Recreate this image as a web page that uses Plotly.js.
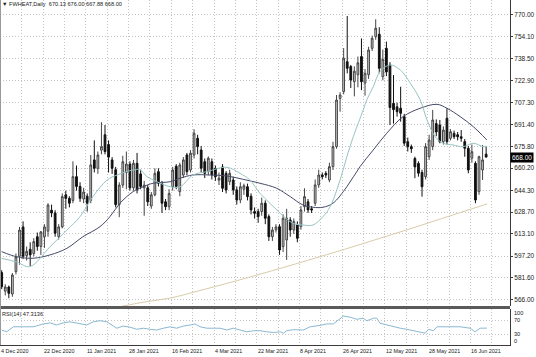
<!DOCTYPE html>
<html><head><meta charset="utf-8">
<script src="https://cdn.plot.ly/plotly-3.0.1.min.js"></script>
<style>html,body{margin:0;padding:0;background:#fff;}#chart{width:536px;height:357px;}</style>
</head><body><div id="chart"></div>
<script>
const symbol = 'FWHEAT,Daily';
const rsiName = 'RSI(14)';
const rsiLast = 47.3136;

const dateLabels = ['4 Dec 2020','22 Dec 2020','11 Jan 2021','28 Jan 2021','16 Feb 2021','4 Mar 2021','22 Mar 2021','8 Apr 2021','26 Apr 2021','12 May 2021','28 May 2021','16 Jun 2021'];
const dateLabelIdx = [0,12,24,36,48,60,72,84,96,108,120,132];

const priceTicks = [566.00,581.60,597.20,613.10,628.70,644.30,660.20,675.80,691.40,707.30,722.90,738.50,754.10,770.00];
const rsiTicks = [100,70,30,0];

const open = [585.3,572,575,570,586,597,618,597.5,602,599,611,604,611,615,630,628,611,618,641,638.5,
637,654,647,638,640,637,666,660,673,684,677,666,659,634,648,657,663,646,663.6,656,
646,646,633,641,657.6,649,636,632.5,646.8,661.5,643.3,655.2,669.5,658.8,669.5,681.5,673.1,664.7,657.6,664.7,
660,651.5,661,656.4,650.4,651.6,644.5,637.3,645,646.8,640,629,629,629,635,625.4,611,616,618.2,603.9,
608.7,623,615.8,619.4,618.2,632.5,636,631,635,648.1,655.2,656.4,651.6,661.2,675.5,710,714.9,736.3,732.8,722,
727,740,721,727,745.9,754.2,756,725.6,745.9,734,706.5,704,703,697,679,675.5,667,663.5,657,654,
668.3,675.5,692,691,679,695.8,681.5,685,684,682.6,679.1,674.3,667.2,663.6,643.3,658.8,670.13];
const high = [587,577,576,585,599,618,622,604,607,610,614,615,620,635,634,630,620,642,644,640,
665,662,650,646,642,669.5,680,672,693,691,680,668,661,650,669,672,665,666,671,659,
651,648,643,660,660,651,638,645,661,663,664,668,671,673,688,684,676,667,668.5,667,
662,657,663,658,659,654,647,650,649,649,642,632,631,639,637,627,618,620,620,627,
631,625,624,622,633,645.7,638,633,652,659,657,658,664,679,712.5,714.5,746,769,734,733,
740,753,731,747,755,766.7,761,745,750.7,736,726.8,707,718.4,699,682,677,668.3,665,659,678,
684,701.8,695,694.6,690,703,688,687,686,687.4,681,676,677,665,669,676.7,676];
const low = [573.5,569,567,568,584,591,595,594,590,597,601,598,603,611,625,611,609,617,631,632,
635,644,636,635,629,635,657,656,670,670,657,656,632,625,646,645,644,644,642,645,
626,633,631,640,647,628,630,630,644,645,640,653,655,657,667,670,657,653,655,652,
651,648,643,642,648,641,634,635,641,637,627,624,621,626,620,608,608,614,598,600,
594.4,611,613,607,616,629,628,628,633,646,652,653,650,658.8,674,700.5,713,728,717.5,711.5,
718,716,712,724,744,752,728,723,726,691,692,697,693.4,676,672,671,652.9,654,639.7,652,
666,673,683,677.9,677,677,680,681,680,679,668.3,656.4,664,635,641,651.6,667.88];
const close = [575.2,575,570.5,583.6,596.7,615.8,597,600.5,598,607.5,604,614.5,618,633.7,628,613.5,618,639.7,638.5,635,
654,647,638.5,643,635,662.4,660,669.5,675.5,672,668,660,634,648,664.7,663,646,663.6,644.5,647,
648,636,641,656.4,649.3,635,632.5,642,658.8,647,662.4,666,657.6,670.8,685.1,675.5,660,656.4,667.2,655.2,
654,653,645.7,644.5,656.4,644.5,637.3,646.8,647.5,639.7,630.2,627.8,625.4,635,624.2,611,615.8,618,601.5,624.2,
624.2,615.8,621.8,609.9,630.2,639.7,630.2,630.2,648.1,655.2,654,655.2,661.2,675.5,708.9,712.5,738.8,731.6,723.2,729.5,
735.5,722,728,744.7,753.1,760.3,731.6,738,729,703.5,702,700.5,699.4,678,675.5,674,661,656.5,646.8,675.5,
680.3,694.6,686,679,687.4,679.1,686.2,682.6,682.6,681.5,674.3,658.8,671.9,637.3,668.3,666,668];

const maFastIdx = [0,4.2,7.9,13.6,18.3,22,25.6,29.6,32.4,36.9,38.8,40.8,43.6,47.3,50.1,53.7,57.6,63.2,66.9,69.7,72.5,75.3,78.2,81.8,84.6,87.4,90.2,92.2,95,96.9,98.7,101.5,102.5,104.3,106.2,109,111.9,114.7,117.5,119.4,121.7,124,126.7,129.5,132.4,135.2,136.3];
const maFastVal = [595.5,592.9,589.6,603.9,615.8,625.4,639.7,651.6,655.2,658.8,659,654,650.4,646.8,646.8,655.2,657.6,660.7,656.4,651.6,642.1,635,627.8,620.6,619.4,619.4,625.4,632.5,651.6,668.3,682.6,701.8,709,718.4,729.2,734,730.4,721,708.9,694.6,682.6,677.9,676.7,675.5,677.9,675.5,675.5];

const maSlowIdx = [0,4.2,8.8,13.6,18.3,22.8,27.6,30.4,33.2,36.9,39.7,42.5,47.3,50.1,53.7,58.5,63.2,67.8,72.5,77.2,81,84.6,87.4,90.2,93,96.9,100.6,104.3,108.1,112.7,117.5,122.2,125,128.7,132.4,136.2];
const maSlowVal = [600.3,596.7,595.6,598,602.7,611,618.2,625.4,635,643.3,646.8,649.3,650.4,652.9,655.2,655.2,654.5,652.1,649.3,645.7,639.7,633.7,632.1,632.1,635,646.8,661.2,673.1,685.1,697,703,705.8,703,697,689.8,680.3];

const maLongIdx = [30,32.7,39.7,47.3,55.7,66.1,79,92.2,97.8,117.5,128.7,136.3];
const maLongVal = [559.5,560.7,564.1,567.1,572.5,579.6,588.9,598.9,603.2,619,628.3,634.5];

const rsiIdx = [0,1.4,3.3,5.1,7,8.9,11.7,13.6,15.4,17.3,19.2,21.1,23.9,25.7,27.6,29.5,30.9,32.3,34.1,36,37.9,39.8,41.6,43.5,45.4,47.3,49.1,51,52.9,54.3,55.7,57.6,59.4,61.3,63.2,65,66.9,68.8,70.7,72.5,74.4,76.3,78.2,79.1,80,81.9,84.7,86.6,89.4,91.3,93.1,95,95.9,97.8,99.7,101.5,102.5,104.4,105.3,106.2,108.1,110,111.9,113.7,115.6,117.5,118.9,119.8,121.2,122.2,125,128.7,131.5,132.9,134.3,136.2];
const rsiVal = [42,37,51,51,53,51,59,62,56,62,65,61,56,65,68,65,56,47,53,50,44,47,44,42,47,51,47,53,56,59,51,47,47,47,42,47,42,37,40,40,37,35,37,33,40,43,42,51,55,59,59,74,81,78,72,75,68,75,75,61,56,51,47,44,40,37,33,44,40,51,51,51,47,37,47,47.3];

const barIdx = open.map((_, i) => i);
const last = open.length - 1;

const FONT = 'Liberation Sans, Arial, sans-serif';
const gridCol = '#c4c4c4';
const axisCol = '#3a3a3a';
const txtCol = '#1a1a1a';

const traces = [
  {type:'candlestick', x:barIdx, open:open, high:high, low:low, close:close,
   xaxis:'x', yaxis:'y', hoverinfo:'skip', whiskerwidth:0,
   increasing:{line:{color:'#444', width:1}, fillcolor:'#cfcfcf'},
   decreasing:{line:{color:'#111', width:1}, fillcolor:'#111'}},
  {type:'scatter', mode:'lines', x:maLongIdx, y:maLongVal, xaxis:'x', yaxis:'y',
   line:{color:'#d9cba8', width:1, shape:'spline'}, hoverinfo:'skip'},
  {type:'scatter', mode:'lines', x:maSlowIdx, y:maSlowVal, xaxis:'x', yaxis:'y',
   line:{color:'#454b68', width:1, shape:'spline'}, hoverinfo:'skip'},
  {type:'scatter', mode:'lines', x:maFastIdx, y:maFastVal, xaxis:'x', yaxis:'y',
   line:{color:'#98c3c3', width:1, shape:'spline'}, hoverinfo:'skip'},
  {type:'scatter', mode:'lines', x:rsiIdx, y:rsiVal, xaxis:'x', yaxis:'y2',
   line:{color:'#8ab8d2', width:1}, hoverinfo:'skip'}
];

const H = 345; // plot area height in px
const mainBottomPx = 306, rsiTopPx = 309;
const mainDom = [1 - mainBottomPx / H, 1];
const rsiDom = [0, 1 - rsiTopPx / H];

const annotations = [];
annotations.push({xref:'paper', yref:'paper', x:0, y:1, xanchor:'left', yanchor:'top', xshift:1, yshift:0,
  text:'\u25BC ' + symbol + '  ' + [open[last], high[last], low[last], close[last]].map(v => v.toFixed(2)).join(' '),
  showarrow:false, borderpad:0, font:{family:FONT, size:5.6, color:txtCol}});
annotations.push({xref:'paper', yref:'paper', x:0, y:rsiDom[1], xanchor:'left', yanchor:'top', xshift:1, yshift:-1,
  text:rsiName + ' ' + rsiLast.toFixed(4), showarrow:false, borderpad:0, font:{family:FONT, size:5.6, color:txtCol}});
dateLabels.forEach((t, k) => annotations.push({xref:'x', yref:'paper', x:dateLabelIdx[k], y:0,
  xanchor:'left', yanchor:'top', xshift:-1.5, yshift:-2, text:t, showarrow:false, borderpad:0,
  font:{family:FONT, size:5.4, color:txtCol}}));
rsiTicks.forEach(v => annotations.push({xref:'paper', yref:'y2', x:1, y:v, xanchor:'left',
  yanchor: v === 100 ? 'top' : (v === 0 ? 'bottom' : 'middle'), xshift:3, yshift: v === 0 ? 0 : 0,
  text:String(v), showarrow:false, borderpad:0,
  font:{family:FONT, size:5.6, color:txtCol}}));
annotations.push({xref:'paper', yref:'y', x:1, y:close[last], xanchor:'left', yanchor:'middle', xshift:0,
  text:close[last].toFixed(2), showarrow:false, bgcolor:'#000', borderpad:1,
  font:{family:FONT, size:6.5, color:'#fff'}});

const layout = {
  width:536, height:357,
  margin:{l:0, r:26, t:0, b:12, pad:0},
  paper_bgcolor:'#fff', plot_bgcolor:'#fff',
  showlegend:false, dragmode:false,
  xaxis:{anchor:'y2', range:[-0.477, 142.7], tickmode:'linear', tick0:-0.4, dtick:6,
    showticklabels:false, ticks:'', showgrid:true, gridcolor:gridCol, griddash:'1px,2px', gridwidth:1,
    zeroline:false, showline:true, linecolor:axisCol, linewidth:1, rangeslider:{visible:false}, fixedrange:true},
  yaxis:{domain:mainDom, range:[561.4, 780.5], side:'right', anchor:'x', tickmode:'array',
    tickvals:priceTicks, ticktext:priceTicks.map(v => v.toFixed(2)),
    tickfont:{family:FONT, size:6.5, color:txtCol}, ticks:'outside', ticklen:2, tickcolor:axisCol,
    showgrid:true, gridcolor:gridCol, griddash:'1px,2px', zeroline:false,
    showline:true, linecolor:axisCol, linewidth:1, automargin:false, fixedrange:true},
  yaxis2:{domain:rsiDom, range:[0, 100.8], side:'right', anchor:'x', tickmode:'array',
    tickvals:[30,70], showticklabels:false, ticks:'', showgrid:true, gridcolor:gridCol, griddash:'1px,2px',
    zeroline:false, showline:true, linecolor:axisCol, linewidth:1, automargin:false, fixedrange:true},
  shapes:[
    {type:'rect', xref:'paper', yref:'paper', x0:0, x1:1, y0:rsiDom[1], y1:mainDom[0],
     fillcolor:'#5a5a5a', line:{width:0}},
    {type:'line', xref:'paper', yref:'paper', x0:0.001, x1:0.001, y0:0, y1:1, line:{color:'#9a9a9a', width:1}}
  ],
  annotations:annotations
};

Plotly.newPlot('chart', traces, layout, {staticPlot:true, displayModeBar:false});
</script>
</body></html>
